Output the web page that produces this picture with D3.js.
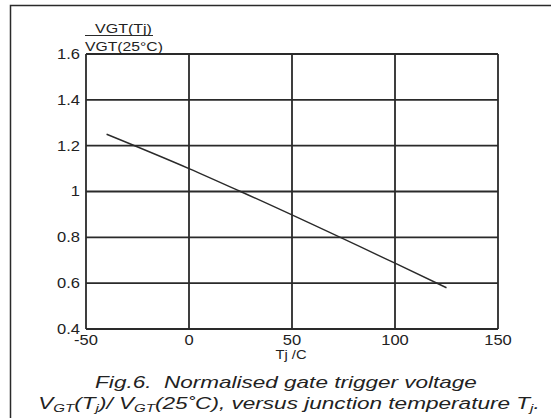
<!DOCTYPE html>
<html><head><meta charset="utf-8">
<script src="https://cdn.jsdelivr.net/npm/d3@7"></script>
<style>body{margin:0;background:#fff}svg{display:block}text{white-space:pre}</style>
</head><body>
<script>
const temps = [-40, 0, 25, 100, 125];
const ratios = [1.25, 1.1, 1.0, 0.687, 0.58];
const xTicks = [-50, 0, 50, 100, 150];
const yTicks = [0.4, 0.6, 0.8, 1, 1.2, 1.4, 1.6];
const yTickLabels = ["0.4", "0.6", "0.8", "1", "1.2", "1.4", "1.6"];

const W = 551, H = 418;
const svg = d3.select("body").append("svg").attr("width", W).attr("height", H);
const font = "'Liberation Sans', Arial, sans-serif";
const ink = "#2a2a2a";
const SX = 1.18;

function stretch(sel, ax, k) {
  sel.attr("transform", `translate(${ax},0) scale(${k},1) translate(${-ax},0)`);
}
function fitWidth(sel, cx, target) {
  const w = sel.node().getComputedTextLength();
  stretch(sel, cx, target / w);
}

// outer frame
svg.append("path").attr("d", `M10.5,${H}V5.5H${W}`).attr("fill", "none").attr("stroke", ink).attr("stroke-width", 1.5);

const x = d3.scaleLinear().domain([-50, 150]).range([86, 498]);
const y = d3.scaleLinear().domain([0.4, 1.6]).range([329, 54]);

const g = svg.append("g");
g.selectAll(".gx").data(xTicks).join("line")
  .attr("x1", d => x(d)).attr("x2", d => x(d)).attr("y1", y(1.6)).attr("y2", y(0.4))
  .attr("stroke", ink).attr("stroke-width", 1.8);
g.selectAll(".gy").data(yTicks).join("line")
  .attr("y1", d => y(d)).attr("y2", d => y(d)).attr("x1", x(-50)).attr("x2", x(150))
  .attr("stroke", ink).attr("stroke-width", 1.8);

g.selectAll(".yl").data(yTicks).join("text")
  .attr("x", 80).attr("y", d => y(d) + 5).attr("text-anchor", "end")
  .attr("font-family", font).attr("font-size", 14).attr("fill", "#222")
  .text((d, i) => yTickLabels[i])
  .each(function() { stretch(d3.select(this), 80, SX); });
g.selectAll(".xl").data(xTicks).join("text")
  .attr("x", d => x(d)).attr("y", 345).attr("text-anchor", "middle")
  .attr("font-family", font).attr("font-size", 14).attr("fill", "#222")
  .text(d => d)
  .each(function(d) { stretch(d3.select(this), x(d), SX); });

const tj = svg.append("text").attr("x", 291).attr("y", 359).attr("text-anchor", "middle")
  .attr("font-family", font).attr("font-size", 12.5).attr("fill", "#222").text("Tj /C");
stretch(tj, 291, SX);

const num = svg.append("text").attr("x", 123.5).attr("y", 33).attr("text-anchor", "middle")
  .attr("font-family", font).attr("font-size", 13).attr("fill", "#222").text("VGT(Tj)");
fitWidth(num, 123.5, 57);
svg.append("line").attr("x1", 85).attr("x2", 153).attr("y1", 35.5).attr("y2", 35.5).attr("stroke", ink).attr("stroke-width", 1.2);
const den = svg.append("text").attr("x", 124).attr("y", 51).attr("text-anchor", "middle")
  .attr("font-family", font).attr("font-size", 13).attr("fill", "#222").text("VGT(25°C)");
fitWidth(den, 124, 78);

const pts = temps.map((t, i) => [t, ratios[i]]);
svg.append("path").datum(pts)
  .attr("d", d3.line().x(d => x(d[0])).y(d => y(d[1])).curve(d3.curveMonotoneX))
  .attr("fill", "none").attr("stroke", ink).attr("stroke-width", 1.4);

const c1 = svg.append("text").attr("x", 286).attr("y", 388).attr("text-anchor", "middle")
  .attr("font-family", font).attr("font-size", 16.5).attr("font-style", "italic").attr("fill", "#222");
c1.text("Fig.6.  Normalised gate trigger voltage");
fitWidth(c1, 286, 382);
const c2 = svg.append("text").attr("x", 289).attr("y", 409).attr("text-anchor", "middle")
  .attr("font-family", font).attr("font-size", 16.5).attr("font-style", "italic").attr("fill", "#222");
c2.append("tspan").text("V");
c2.append("tspan").attr("font-size", 11).attr("dy", 3).text("GT");
c2.append("tspan").attr("dy", -3).text("(T");
c2.append("tspan").attr("font-size", 11).attr("dy", 3).text("j");
c2.append("tspan").attr("dy", -3).text(")/ V");
c2.append("tspan").attr("font-size", 11).attr("dy", 3).text("GT");
c2.append("tspan").attr("dy", -3).text("(25˚C), versus junction temperature T");
c2.append("tspan").attr("font-size", 11).attr("dy", 3).text("j");
c2.append("tspan").attr("dy", -3).text(".");
fitWidth(c2, 289, 502);
</script>
</body></html>
